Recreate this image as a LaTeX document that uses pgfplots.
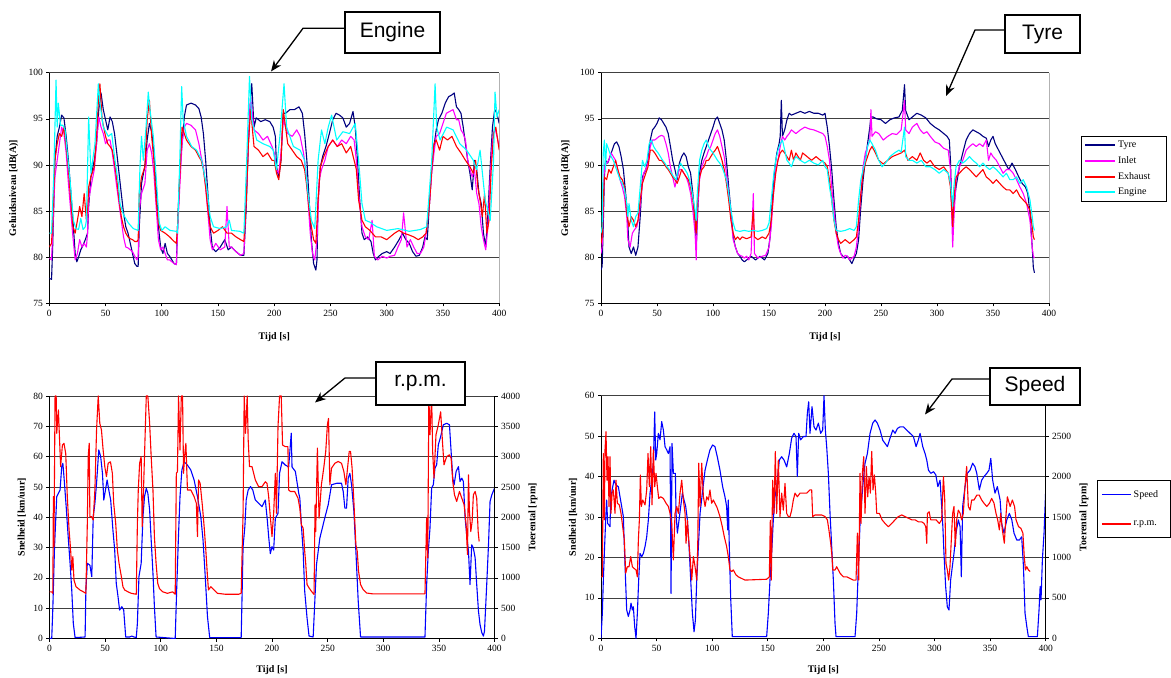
\documentclass[border=0pt]{standalone}
\usepackage{fontspec}
\setmainfont{Liberation Serif}
\newfontfamily\arialfont{Liberation Sans}
\usepackage{pgfplots}
\pgfplotsset{compat=1.18}
\usetikzlibrary{arrows.meta}
\definecolor{tyre}{RGB}{0,0,128}
\definecolor{inlet}{RGB}{255,0,255}
\definecolor{exhaust}{RGB}{255,0,0}
\definecolor{engine}{RGB}{0,255,255}
\definecolor{speedc}{RGB}{0,0,255}
\definecolor{rpmc}{RGB}{255,0,0}

\pgfplotsset{
 base/.style={
  scale only axis, xmin=0, xmax=400, xtick={0,50,...,400},
  axis x line*=bottom, axis y line*=left,
  axis line style={-, black, line width=0.8bp},
  tick align=outside, major tick length=3bp,
  tick style={black, line width=0.6bp},
  ymajorgrids, major grid style={black!75, line width=0.7bp},
  tick label style={font=\fontsize{9.5bp}{11bp}\selectfont},
  label style={font=\fontsize{10bp}{12bp}\selectfont\bfseries},
  /pgf/number format/assume math mode=true,
  /pgf/number format/1000 sep={},
  scaled ticks=false,
  every axis plot/.append style={line width=1.1bp, line join=round},
  legend cell align=left,
  legend image code/.code={\draw[##1, line width=2bp] (0bp,0bp) -- (30bp,0bp);},
 },
 topax/.style={base, width=449.9bp, height=230.6bp, ymin=75, ymax=100, ytick={75,80,...,100},
  xlabel={Tijd [s]}, ylabel={Geluidsniveau [dB(A)]},
  xlabel style={at={(axis description cs:0.5,-0.148)}, anchor=center},
  ylabel style={at={(axis description cs:-0.079,0.5)}, anchor=center},
  extra x ticks={400}, extra x tick labels={},
  extra x tick style={grid=major, major grid style={gray!60, line width=0.7bp}, major tick length=0pt},
 },
 botax/.style={base, width=445bp, height=242.5bp, ymin=0,
  xlabel={Tijd [s]}, ylabel={Snelheid [km/uur]},
  xlabel style={at={(axis description cs:0.5,-0.132)}, anchor=center},
  ylabel style={at={(axis description cs:-0.062,0.5)}, anchor=center},
 },
 rightax/.style={scale only axis, width=445bp, height=242.5bp, xmin=0, xmax=400, ymin=0,
  axis x line=none, axis y line*=right,
  axis line style={-, black, line width=0.8bp},
  tick align=outside, major tick length=3bp,
  tick style={black, line width=0.6bp},
  tick label style={font=\fontsize{9.5bp}{11bp}\selectfont},
  label style={font=\fontsize{10bp}{12bp}\selectfont\bfseries},
  /pgf/number format/assume math mode=true,
  /pgf/number format/1000 sep={},
  scaled ticks=false,
  every axis plot/.append style={line width=1.1bp, line join=round},
  ylabel={Toerental [rpm]},
  ylabel style={at={(axis description cs:1.0865,0.5)}, anchor=center},
  legend cell align=left,
  legend image code/.code={\draw[##1, line width=1.6bp] (0bp,0bp) -- (29bp,0bp);},
 },
}

\begin{document}
\begin{tikzpicture}

% ================= TOP LEFT (Engine) =================
\begin{axis}[topax, at={(49.3bp,374.7bp)}, anchor=south west]
\addplot[tyre] coordinates {(0,77.7)(2,77.6)(3,81.1)(5,90.5)(7,93.1)(9,94.1)(11,95.4)(13,95.1)(15,93.1)(17,90.5)(19,87.3)(21,84.0)(23,80.4)(24.5,79.5)(26,80.0)(28,80.8)(30,81.3)(32,81.9)(34,82.6)(35,85.5)(37,88.7)(40,90.5)(42,92.3)(44,96.0)(46,97.8)(48,96.0)(50,94.9)(52,93.8)(54,95.2)(56,94.7)(58,93.4)(60,91.3)(62,89.1)(64,86.9)(66,84.8)(68,83.3)(70,82.6)(72,81.5)(74,80.4)(76,79.3)(78,79.0)(79,79.0)(80,83.3)(82,88.0)(85,89.9)(87,92.7)(89,94.5)(91,93.6)(93,91.3)(95,87.7)(97,83.3)(99,81.1)(101,80.4)(103,81.5)(105,80.4)(107,80.1)(109,79.7)(111,79.3)(113,79.2)(114,83.3)(116,89.1)(118,92.3)(120,95.2)(122,96.5)(126,96.7)(130,96.5)(133,96.1)(135,95.2)(137,93.4)(139,90.5)(141,86.9)(143,83.3)(145,81.0)(148,80.6)(152,81.1)(156,81.9)(159,80.8)(162,81.1)(166,80.6)(170,80.2)(173,80.2)(175,85.1)(177,92.3)(179,97.4)(180,98.8)(182,94.1)(184,95.1)(188,94.7)(192,94.9)(196,94.7)(199,94.1)(201,93.1)(202,89.8)(204,88.7)(206,90.5)(208,95.6)(210,95.6)(214,96.0)(218,96.0)(222,96.3)(225,95.6)(227,93.4)(229,90.5)(231,86.2)(233,81.9)(235,79.3)(237,78.6)(238,79.7)(239,86.2)(241,89.8)(243,90.9)(246,92.0)(249,93.4)(252,94.9)(255,95.6)(258,95.4)(261,95.1)(264,94.1)(267,94.5)(270,95.8)(272,94.1)(274,90.5)(276,86.2)(278,82.6)(280,81.9)(283,82.2)(286,81.7)(288,80.4)(290,79.7)(293,80.1)(296,80.4)(300,80.6)(303,80.4)(307,81.1)(311,81.9)(314,82.6)(317,81.9)(320,81.5)(323,80.6)(326,80.1)(329,80.2)(332,81.1)(334,82.2)(336,81.9)(338,85.8)(340,89.5)(342,92.0)(344,93.8)(346,94.9)(349,95.6)(352,96.7)(355,97.4)(358,97.6)(360,97.8)(362,96.3)(364,96.0)(366,95.6)(368,94.1)(370,92.3)(372,90.5)(374,89.1)(376,87.3)(378,90.5)(380,89.5)(382,86.9)(384,85.8)(386,82.6)(388,81.1)(390,84.8)(392,89.8)(394,94.1)(396,96.0)(398,95.6)(400,94.5)};
\addplot[inlet] coordinates {(0,79.9)(2,79.7)(3,82.6)(5,88.7)(7,90.5)(9,92.3)(11,94.1)(13,93.4)(15,91.3)(17,88.0)(19,85.1)(21,82.2)(23,79.7)(25,80.4)(27,81.9)(29,81.1)(31,81.5)(33,81.1)(34,82.6)(35,86.2)(37,87.6)(40,89.5)(42,92.3)(44,95.2)(46,94.1)(48,93.4)(50,92.3)(52,92.7)(54,92.7)(56,91.3)(58,89.5)(60,87.6)(62,85.8)(64,84.0)(66,82.2)(68,81.1)(70,81.0)(72,80.8)(74,80.6)(76,80.1)(78,79.7)(79,80.1)(80,85.1)(82,86.9)(85,88.0)(87,91.6)(89,92.3)(91,91.3)(93,89.1)(95,85.5)(97,81.9)(99,80.8)(101,81.1)(103,80.4)(105,79.7)(107,79.7)(109,79.5)(111,79.3)(113,79.2)(114,82.6)(116,87.6)(118,92.3)(120,94.1)(122,94.5)(126,94.3)(130,93.8)(133,92.3)(135,90.9)(137,89.8)(139,87.6)(141,84.8)(143,81.9)(145,80.8)(148,81.5)(152,80.8)(156,81.1)(158,85.5)(160,81.1)(162,81.1)(166,80.6)(170,80.2)(173,80.4)(175,86.2)(177,92.3)(179,97.4)(182,93.8)(186,93.4)(190,92.7)(194,93.1)(198,92.0)(200,91.3)(202,89.5)(204,89.1)(206,91.3)(208,94.9)(212,93.4)(216,93.1)(220,93.8)(223,93.1)(226,91.3)(228,89.5)(230,86.2)(232,82.6)(234,80.4)(236,79.7)(238,81.9)(240,88.4)(242,89.5)(245,90.5)(248,92.0)(252,92.7)(256,92.0)(260,92.7)(264,92.3)(268,93.1)(271,92.7)(273,90.5)(275,86.9)(278,83.3)(281,82.2)(284,81.9)(287,84.0)(289,80.1)(292,79.7)(296,80.1)(300,79.9)(303,80.1)(307,80.2)(310,81.1)(313,81.9)(315,84.8)(318,81.1)(321,81.9)(324,81.1)(327,80.4)(330,80.4)(333,81.1)(335,82.6)(338,85.8)(340,89.1)(342,91.3)(344,93.1)(347,93.4)(350,94.5)(353,95.6)(356,95.8)(359,96.0)(362,94.9)(364,94.9)(366,93.8)(368,93.4)(370,92.7)(372,90.5)(374,89.5)(376,88.7)(378,89.5)(380,86.9)(382,85.8)(384,83.3)(386,81.9)(388,80.8)(390,83.3)(392,88.7)(394,92.7)(396,94.1)(398,93.1)(400,92.0)};
\addplot[exhaust] coordinates {(0,81.1)(2,81.5)(3,84.0)(5,90.5)(7,92.3)(9,93.4)(11,93.1)(13,94.1)(15,92.0)(17,89.5)(19,86.2)(21,83.3)(23,82.6)(25,84.0)(27,85.5)(29,84.4)(31,86.9)(33,84.0)(34,85.1)(35,87.6)(37,88.7)(40,89.8)(42,93.1)(44,97.8)(45,98.8)(47,94.9)(50,93.1)(52,92.3)(54,92.0)(56,91.6)(58,90.2)(60,88.4)(62,86.2)(64,84.4)(66,83.3)(68,82.6)(70,82.2)(72,82.0)(74,81.9)(76,81.7)(78,81.7)(79,81.9)(80,86.9)(82,88.7)(85,89.8)(87,94.9)(89,97.0)(91,93.1)(93,90.5)(95,86.2)(97,83.7)(99,82.9)(103,82.6)(107,82.2)(111,81.7)(113,81.5)(114,83.3)(116,88.7)(118,94.1)(120,93.4)(122,92.7)(126,92.0)(130,91.6)(133,90.9)(135,90.5)(137,89.5)(139,87.6)(141,85.1)(143,83.3)(146,82.6)(150,82.9)(154,83.3)(158,82.6)(162,82.6)(166,82.2)(170,81.9)(173,81.7)(175,85.8)(177,92.3)(179,96.0)(182,92.0)(186,91.6)(190,90.9)(194,91.3)(198,90.5)(200,90.5)(202,89.1)(204,88.4)(206,90.5)(208,96.0)(212,92.3)(216,91.6)(220,90.9)(224,90.5)(227,89.5)(229,87.6)(231,85.1)(233,83.3)(235,81.9)(237,81.5)(239,86.2)(241,89.8)(244,90.9)(248,92.0)(252,92.7)(256,92.0)(260,92.3)(264,91.3)(268,92.0)(271,90.5)(273,89.5)(275,86.2)(278,84.0)(281,83.3)(285,82.9)(290,82.2)(295,82.2)(300,81.9)(303,82.2)(307,82.6)(311,82.9)(315,82.6)(320,82.4)(324,82.2)(328,81.9)(332,82.2)(335,82.6)(338,85.8)(340,89.5)(342,92.3)(344,92.7)(347,91.6)(350,93.1)(354,92.7)(358,93.1)(362,92.0)(366,91.3)(370,90.5)(374,89.8)(377,89.1)(379,90.5)(381,87.6)(383,86.2)(385,84.4)(387,86.9)(389,82.6)(391,84.0)(393,89.8)(395,93.4)(397,94.1)(400,91.6)};
\addplot[engine] coordinates {(0,82.6)(2,82.6)(4,89.0)(6,99.2)(7,94.1)(8,96.7)(10,94.3)(12,94.3)(14,93.8)(15.4,92.0)(18.4,88.4)(21.4,84.0)(23.7,83.1)(26,83.0)(28,84.2)(30,83.0)(32,83.3)(33,84.0)(35,95.2)(37,89.1)(40.6,92.3)(43.6,98.8)(45,96.7)(48,94.1)(52.5,93.1)(55.5,93.4)(58.4,90.5)(61.4,88.0)(62.9,85.8)(66,84.6)(70.3,83.7)(74.7,83.1)(79,82.9)(80.6,89.8)(82,93.1)(83.6,90.5)(86,94.1)(88,97.9)(89.5,96.0)(92.5,93.1)(95.4,88.0)(97.8,83.7)(100,82.9)(103,83.3)(107.3,82.9)(113,82.8)(114,82.6)(116,90.5)(117.7,98.5)(119,94.9)(122,93.1)(126.6,92.0)(131,91.6)(135.5,90.5)(140,87.6)(143,84.4)(146,83.3)(152,83.1)(157.7,83.3)(160,84.0)(162,82.9)(169.5,82.8)(173,82.6)(175.5,90.5)(178,99.6)(180,94.9)(184.4,92.7)(190,92.3)(196,92.0)(199,91.6)(202,89.5)(205,93.1)(208.7,98.8)(211,94.1)(217,92.0)(223,91.6)(227,90.5)(230,86.9)(233,84.0)(236,83.1)(239,90.5)(242,93.8)(245,92.3)(248,94.1)(251,95.4)(255.5,92.7)(261,93.6)(267,93.4)(272,94.5)(275,90.5)(278,85.8)(281,84.0)(285,83.8)(291,83.3)(300,82.9)(310,83.1)(320,82.8)(330,83.0)(335.5,83.3)(340,90.5)(343,98.8)(344.4,94.1)(347.4,92.7)(353.3,94.1)(359,93.8)(365,92.3)(371,91.6)(377,90.5)(380,89.5)(383,91.6)(387.5,86.2)(392,84.0)(395,90.5)(396.3,97.9)(398,95.2)(400,96.0)};
\end{axis}

% ================= TOP RIGHT (Tyre) =================
\begin{axis}[topax, width=448bp, at={(601bp,374.7bp)}, anchor=south west,
  legend style={at={(axis description cs:1.071,0.727)}, anchor=north west, draw=black, line width=0.6bp, fill=white,
   font=\fontsize{10bp}{11bp}\selectfont, row sep=3.5bp, inner xsep=3bp, inner ysep=3bp}]
\addplot[tyre] coordinates {(0,78.6)(1,79.0)(2,83.3)(3,88.7)(4,90.5)(6,90.2)(8,90.9)(10,91.6)(12,92.3)(14,92.5)(16,92.0)(18,90.9)(20,89.5)(22,86.9)(23.5,84.8)(25,81.1)(27,80.4)(29,81.1)(31,80.2)(33,81.1)(35,84.4)(37,88.7)(40,89.5)(42,90.5)(44,92.7)(46,93.8)(48,94.1)(50,94.5)(52,95.1)(54,94.9)(56,94.5)(58,94.1)(60,93.4)(62,92.0)(64,90.5)(66,89.5)(68,88.4)(70,90.2)(72,90.9)(74,91.3)(76,90.9)(78,89.8)(80,89.1)(82,86.9)(84,84.0)(85,81.1)(86,84.0)(88,89.1)(90,90.5)(92,91.3)(94,92.0)(96,92.7)(98,93.4)(100,94.1)(102,94.9)(104,95.2)(106,94.5)(108,93.8)(110,92.7)(112,90.5)(114,87.6)(116,85.1)(118,82.2)(120,81.1)(122,80.4)(124,80.1)(126,79.7)(128,79.5)(130,79.7)(134,80.1)(138,79.7)(142,80.1)(146,79.7)(149,80.4)(151,82.2)(153,86.2)(155,89.5)(157,91.3)(159,92.3)(160,93.1)(161,97.0)(162,93.1)(164,93.8)(166,94.9)(168,95.6)(170,95.4)(174,95.6)(178,95.8)(182,95.6)(186,95.8)(190,95.6)(194,95.6)(198,95.4)(200,95.6)(202,94.1)(204,92.0)(206,89.5)(208,86.2)(210,83.3)(212,81.5)(214,80.4)(216,80.1)(218,79.9)(220,80.1)(222,79.7)(224,79.3)(226,79.9)(228,80.4)(230,81.9)(232,85.5)(234,88.4)(236,90.5)(238,92.3)(240,94.1)(241,95.2)(243,95.2)(246,95.0)(250,94.9)(254,94.5)(258,94.9)(262,95.1)(266,95.2)(269,95.9)(271,98.7)(272,95.9)(275,94.9)(278,95.2)(282,95.6)(286,95.4)(290,95.1)(294,94.5)(298,94.1)(302,93.8)(306,93.4)(309,93.1)(311,92.7)(312,90.5)(313,86.2)(314,83.3)(315,85.5)(317,87.6)(320,89.8)(323,91.3)(326,92.7)(329,93.4)(332,93.8)(335,93.6)(338,93.4)(341,93.1)(344,92.9)(346,92.0)(348,92.7)(350,93.1)(352,92.3)(355,91.6)(358,90.9)(361,90.2)(364,89.5)(367,90.2)(370,89.5)(373,88.7)(376,88.0)(379,87.6)(381,86.9)(383,84.8)(385,81.1)(386,78.9)(387,78.3)};
\addlegendentry{Tyre}
\addplot[inlet] coordinates {(0,80.4)(1,81.1)(2,85.1)(3,89.8)(5,90.2)(7,90.5)(9,91.3)(11,90.9)(13,90.5)(15,89.5)(17,88.4)(19,87.6)(21,86.6)(23,84.4)(24,81.9)(26,81.1)(28,82.6)(30,83.0)(32,83.3)(34,84.4)(36,86.9)(38,89.1)(40,89.5)(42,90.2)(44,92.0)(46,92.7)(48,92.7)(50,92.9)(52,93.1)(54,93.2)(56,93.1)(58,92.3)(60,91.3)(62,89.8)(64,88.7)(66,87.6)(68,88.7)(70,89.5)(72,89.5)(74,89.1)(76,88.7)(78,88.0)(80,86.9)(82,85.1)(84,82.6)(85,79.7)(86,84.8)(88,88.4)(90,89.8)(92,90.5)(94,90.9)(96,91.6)(98,92.0)(100,92.7)(102,93.4)(104,93.8)(106,93.1)(108,92.0)(110,90.9)(112,89.1)(114,86.9)(116,84.4)(118,81.9)(120,81.1)(122,80.4)(124,80.2)(126,80.1)(128,79.9)(130,80.1)(132,79.7)(134,80.4)(136,86.9)(137,80.4)(140,79.9)(144,80.1)(147,80.2)(150,81.1)(152,83.3)(154,86.9)(156,89.5)(158,90.5)(160,92.0)(162,93.1)(164,92.7)(166,93.1)(168,93.4)(170,93.8)(174,93.4)(178,93.8)(182,94.1)(186,93.9)(190,93.8)(194,93.6)(198,93.4)(200,93.1)(202,92.0)(204,90.5)(206,87.6)(208,85.1)(210,82.6)(212,81.1)(214,80.4)(216,79.9)(218,80.2)(220,80.1)(222,79.7)(224,79.9)(226,80.1)(228,81.1)(230,83.3)(232,86.9)(234,89.8)(236,91.3)(238,92.0)(240,92.7)(241,96.0)(242,93.1)(245,93.6)(248,93.4)(252,92.7)(256,93.1)(260,93.4)(264,93.3)(268,93.8)(271,97.0)(272,93.8)(275,93.4)(278,94.1)(282,94.5)(285,93.8)(288,93.4)(291,93.6)(294,93.1)(298,92.5)(302,92.3)(306,91.8)(310,91.6)(312,89.5)(313,85.1)(314,81.1)(315,84.0)(317,88.4)(320,89.8)(323,90.5)(326,91.6)(329,92.0)(332,92.3)(335,92.0)(338,92.3)(341,92.0)(344,92.7)(346,90.5)(348,91.3)(350,90.9)(353,90.5)(356,89.8)(359,89.1)(362,89.5)(365,89.5)(368,89.1)(371,88.4)(374,87.6)(377,86.9)(380,85.8)(383,84.0)(385,81.1)(386,80.1)(387,79.9)};
\addlegendentry{Inlet}
\addplot[exhaust] coordinates {(0,81.5)(1,82.2)(2,86.2)(3,88.7)(5,88.4)(7,89.5)(9,89.1)(11,89.8)(13,90.5)(15,89.5)(17,88.7)(19,88.4)(21,87.6)(23,84.8)(25,83.3)(27,84.4)(29,84.0)(31,83.3)(33,84.0)(35,86.2)(37,88.0)(40,89.1)(42,89.8)(44,91.6)(46,91.6)(48,91.3)(50,90.9)(52,90.5)(54,90.5)(56,90.2)(58,89.8)(60,89.5)(62,89.1)(64,88.7)(66,88.4)(68,88.0)(70,88.7)(72,89.5)(74,89.1)(76,88.7)(78,88.4)(80,87.6)(82,86.2)(84,84.0)(85,82.6)(86,85.8)(88,88.7)(90,89.5)(92,89.8)(94,90.5)(96,90.5)(98,90.9)(100,91.3)(102,91.6)(104,92.0)(106,91.3)(108,90.5)(110,89.5)(112,88.0)(114,86.2)(116,84.0)(118,82.6)(120,81.9)(122,82.2)(124,81.9)(126,82.2)(130,82.0)(134,82.2)(136,85.1)(137,82.2)(140,81.9)(144,82.2)(147,82.0)(150,82.6)(152,84.0)(154,86.9)(156,89.1)(158,90.5)(160,91.3)(162,91.6)(164,91.3)(166,90.9)(168,90.5)(170,91.6)(172,90.5)(174,91.3)(176,90.9)(178,90.5)(180,91.3)(184,90.9)(188,90.5)(192,90.9)(196,90.5)(200,90.2)(202,89.8)(204,88.4)(206,86.2)(208,84.0)(210,82.6)(212,81.9)(214,81.5)(216,81.7)(218,81.9)(220,81.7)(222,81.5)(226,81.9)(228,82.2)(230,84.0)(232,86.9)(234,89.1)(236,90.2)(238,90.9)(240,91.6)(242,92.0)(245,91.3)(248,90.5)(252,90.1)(256,90.5)(260,90.9)(264,91.1)(268,91.3)(271,91.6)(274,90.5)(278,90.9)(282,90.5)(285,91.3)(288,90.5)(291,90.2)(294,90.5)(298,89.8)(302,89.5)(306,89.8)(310,89.1)(312,87.6)(313,85.5)(314,83.3)(315,86.2)(317,88.7)(320,89.1)(323,89.5)(326,89.8)(329,89.5)(332,89.1)(335,88.7)(338,89.1)(341,89.5)(344,88.7)(347,88.4)(350,88.0)(353,88.4)(356,88.0)(359,87.6)(362,87.3)(365,87.3)(368,86.9)(371,87.3)(374,86.6)(377,86.2)(380,85.8)(383,85.1)(385,83.3)(386,82.2)(387,81.9)};
\addlegendentry{Exhaust\hspace*{11bp}}
\addplot[engine] coordinates {(0,82.6)(1,83.3)(2,91.3)(3,92.7)(4,89.5)(5,92.3)(7,91.6)(9,90.9)(11,90.5)(13,89.8)(15,89.1)(17,88.4)(19,88.0)(21,87.3)(23,85.8)(24,84.4)(25,85.8)(27,84.0)(29,83.3)(31,84.4)(33,84.8)(35,87.6)(37,90.5)(39,89.8)(41,90.5)(43,92.3)(45,92.7)(47,92.0)(49,91.6)(51,91.3)(53,90.9)(55,90.5)(57,90.2)(59,89.8)(61,89.5)(63,89.1)(65,88.7)(67,88.4)(69,89.5)(71,90.2)(73,89.8)(75,89.5)(77,89.1)(79,88.4)(81,87.3)(83,85.8)(84,85.1)(85,84.0)(86,86.9)(88,90.5)(90,91.6)(92,92.3)(94,92.7)(96,92.0)(98,91.6)(100,91.3)(102,90.9)(104,90.5)(106,90.2)(108,89.8)(110,89.1)(112,88.4)(114,86.9)(116,85.1)(118,83.7)(120,82.9)(124,82.8)(128,82.9)(132,82.8)(136,82.9)(140,82.8)(144,82.9)(148,83.1)(150,83.7)(152,86.2)(154,88.7)(156,90.5)(158,91.6)(160,92.3)(162,92.7)(164,91.6)(166,90.5)(168,90.2)(170,89.8)(172,90.5)(174,90.9)(178,90.5)(182,90.2)(186,90.5)(190,90.2)(194,90.0)(198,90.5)(200,89.8)(202,89.5)(204,87.6)(206,86.2)(208,84.0)(210,82.9)(214,82.8)(218,82.9)(222,83.1)(226,82.9)(228,83.3)(230,86.2)(232,88.4)(234,89.5)(236,90.5)(238,92.0)(240,92.7)(242,92.3)(245,91.6)(248,90.5)(251,89.8)(254,90.2)(258,90.9)(262,91.3)(266,91.6)(268,91.4)(271,94.1)(272,90.9)(275,90.5)(278,90.5)(282,90.2)(286,90.5)(290,89.8)(294,89.8)(298,89.5)(302,89.1)(306,89.5)(310,89.1)(312,88.0)(313,86.9)(314,85.5)(315,87.6)(317,89.8)(320,90.5)(323,90.2)(326,90.5)(329,90.9)(332,90.5)(335,90.2)(338,89.8)(341,90.2)(344,89.8)(347,89.5)(350,89.8)(353,89.5)(356,89.1)(359,88.7)(362,89.1)(365,88.4)(368,88.4)(371,88.7)(374,88.0)(377,88.4)(380,87.6)(383,86.2)(385,84.4)(386,83.3)(387,82.9)};
\addlegendentry{Engine}
\end{axis}

% ================= BOTTOM LEFT (r.p.m.) =================
\begin{axis}[botax, at={(49.5bp,39.5bp)}, anchor=south west, ymax=80, ytick={0,10,...,80}]
\addplot[speedc] coordinates {(0,0)(2,0)(3,10)(4.5,30)(6.5,46.8)(9.5,49)(11,56.7)(12,57.8)(13,53.4)(15,43.5)(17,32.5)(18.5,24.8)(20,16)(21.4,5)(23,0.3)(32,0.5)(32.7,16)(34,24.8)(36.3,24.2)(38,20.4)(39.3,40.2)(40.8,44.6)(42.3,51.2)(44.3,62.2)(46,60)(47.6,54.5)(48.8,45.7)(50.3,49)(51.8,52.3)(53.3,49)(55,45.7)(57,35.8)(58.6,29.2)(60,18.2)(61.6,13.8)(63,9.4)(65,10.5)(66.7,9.4)(68.5,0.5)(72,0.5)(74,0.8)(76,0.5)(78,0.3)(79,5)(80.4,20.4)(82.4,24.8)(84,40.2)(85.4,46.8)(87,49.5)(88.4,47.9)(90,42.4)(91.4,32.5)(93,21.5)(94.3,10.5)(95.8,0.5)(113,0)(114.3,16)(115.8,32.5)(117.3,46.8)(119,55.6)(121,58.3)(124,57.2)(127,55.6)(130,52.3)(133,46.8)(136,40.2)(138,32.5)(140,20.4)(142,7.2)(144,0.3)(172.3,0.3)(173.2,16)(174,30.3)(175.6,36.9)(176.8,45.7)(178.6,49)(180.7,50.1)(182.7,49)(185,45.7)(188,44.6)(191,43.5)(194,45.7)(195.8,39)(197,33.6)(198.5,28)(200,30.3)(201.5,29.2)(203,39.6)(205.4,41.3)(206.8,54.5)(209,58.3)(212,57.2)(215,56.6)(217.3,67.7)(218,56.6)(221,55.1)(224,48)(225,46.3)(226.4,37.5)(228,28.8)(229.4,15.6)(231.5,6.8)(233.3,0.8)(237,0.5)(237.8,6.8)(240,24.4)(243,33.1)(247.4,39.7)(250.5,44.1)(253.5,50.7)(258,51.2)(262.5,51.2)(264,48.5)(265.5,43)(267,43)(268.5,52.9)(270,54.5)(271.5,50.7)(273.6,42)(275.4,28.8)(277.5,12.3)(279.6,0.5)(337.5,0.5)(339,17.8)(340.5,28.8)(342,36.4)(343.5,49.6)(345,50.7)(346.5,56.2)(348,57.3)(349.5,63.9)(351.6,66.6)(354,70.5)(357,71)(359.5,70.5)(361,61.7)(362.5,52.9)(363.7,50.7)(365.5,55.1)(367.6,56.7)(369,51.8)(370.6,52.9)(372,51.8)(373.6,39.7)(375,34.2)(376.6,28.8)(378,17.8)(379.5,30.9)(381,29.8)(382.6,26.6)(384,17.8)(385.6,9)(387,4.6)(388.6,1.9)(390,0.8)(391,2.4)(393,17.8)(394.6,30.9)(396,45.2)(397.6,47.4)(400,49.6)};
\end{axis}
\begin{axis}[rightax, at={(49.5bp,39.5bp)}, anchor=south west, ymax=4000, ytick={0,500,...,4000}]
\addplot[rpmc] coordinates {(0,770)(2,770)(3,745)(3.5,2340)(4,1515)(5,4000)(6,4000)(6.5,3385)(8,3770)(9,3300)(10,2835)(11.6,3190)(13,3220)(14.6,3050)(16,2340)(17.6,1790)(19,1460)(20,1130)(21,1350)(22,965)(23.8,855)(27.4,800)(30.4,770)(32.7,745)(34,1900)(34.8,3000)(35.7,3220)(36.3,2010)(37.8,2010)(39.3,1955)(40.8,2450)(42.3,3440)(43.8,4000)(45.2,3550)(46.7,3440)(48.2,3110)(49.7,2835)(51.2,2670)(52.7,2890)(54.8,2915)(56.5,2725)(57.7,2230)(59.5,1900)(61,1460)(62.5,1240)(64.6,1020)(66,855)(67.6,800)(70.5,770)(73.5,745)(78,730)(79,1900)(79.8,2450)(81,2890)(82.4,3000)(83.3,1845)(84.5,2450)(86,3385)(87,4000)(88.4,4000)(90,3550)(91.4,3000)(93,2450)(94.3,1680)(95.8,1240)(97.3,910)(98.8,825)(101.8,770)(106,745)(110.7,770)(113,730)(114,2725)(115,2750)(116,4000)(117.3,3110)(118.5,4000)(119.6,4000)(120.5,2725)(121.4,3000)(122.6,3220)(124,2450)(127,2450)(130,2340)(132,2230)(133,1680)(134,2615)(135.4,2560)(137.5,2175)(139,1845)(140.5,1460)(142,1020)(142.9,800)(145,855)(148,800)(151,745)(158,730)(170,730)(172.3,745)(173.2,1460)(174,2065)(175,4000)(176.2,3385)(177.7,4000)(178.6,3275)(179.8,2835)(182,2835)(185,2615)(188,2505)(191,2505)(194,2585)(195.5,2560)(197,2340)(198.5,2010)(200,1680)(201.5,2065)(203,2725)(204,2065)(205.4,3495)(206.8,4000)(208.3,4000)(209.5,3190)(212,3165)(214.3,3165)(215,2450)(216.5,2425)(220.4,2425)(223.4,2315)(225,2150)(226.4,1875)(228,1820)(229.4,1440)(230.3,1240)(231.5,890)(233.3,835)(235.4,780)(237.8,725)(238.7,2205)(239.3,1765)(240.8,3140)(242.3,1985)(244.4,2535)(246.5,2810)(248.3,3085)(249.8,3525)(250.8,3630)(252,2535)(253.5,2810)(256.5,2890)(259.5,2920)(262.5,2890)(264.6,2755)(266.4,2535)(267.6,2755)(269.4,3085)(270.6,3085)(272,2810)(273.6,2260)(275.4,1545)(276.6,1440)(277.8,1110)(279.6,890)(282,805)(285,750)(291,735)(337.5,735)(339,1985)(340,1330)(341,4000)(342,3360)(343.5,4000)(344.4,3085)(345.6,2645)(347.4,3360)(349.5,3525)(351.6,3740)(353.4,3195)(354.6,2865)(357,3000)(359.5,3030)(361,2975)(362.5,2590)(364,2370)(366,2260)(368.5,2425)(370.6,2315)(372.7,2205)(374.5,1875)(375.7,1385)(376.6,2700)(377.5,2095)(378.7,1765)(379.9,1930)(381,2370)(382.6,2425)(384,2315)(385.3,1765)(386.2,1600)};
\end{axis}

% ================= BOTTOM RIGHT (Speed) =================
\begin{axis}[botax, width=444.7bp, height=242.6bp, at={(601bp,39.7bp)}, anchor=south west, ymax=60, ytick={0,10,...,60},
  ylabel style={at={(axis description cs:-0.063,0.5)}, anchor=center}]
\addplot[speedc] coordinates {(0,0)(1.2,6.2)(2.1,14.4)(3,21)(4.2,29.3)(5.1,34.2)(6,28.4)(7.2,28)(8.1,27.6)(8.7,34.2)(10,36.7)(11.7,39.1)(13.5,37.9)(15.6,37.5)(17.1,35)(18.6,32.6)(20.1,30.1)(21,22.7)(22.2,13.6)(23.1,7)(24.6,5.4)(26.1,7)(27,8.7)(28.2,7)(29.1,7.8)(30.3,2.9)(31.5,0)(32.7,6.2)(33.9,14.4)(35.1,21)(36.6,20.2)(38.1,21)(39.6,22.7)(41.1,25.1)(42.6,29.3)(44.1,35.9)(45.6,39.1)(47.1,43.3)(48.3,56)(49.2,44.1)(50.1,45.7)(51.6,50.7)(53.1,49.1)(54.6,53.6)(56.1,51.5)(57.6,47.4)(59.1,46.6)(60.6,45.7)(62.1,47.4)(63,11.1)(63.9,48.2)(65.1,40.8)(66.9,40.8)(67.5,30.9)(68.7,26)(70.2,29.3)(71.7,32.6)(73.2,35.9)(74.7,34.2)(76.2,32.6)(77.7,29.3)(79.2,22.7)(80.7,14.4)(82.2,6.2)(83.7,1.6)(84.9,4.5)(86.1,14.4)(87.6,22.7)(89.1,30.9)(91.5,36.7)(93.6,41.6)(95.7,44.1)(98,46.6)(100.4,47.8)(102.5,47.4)(104.6,44.9)(107,41.6)(109.4,37.5)(111.5,35)(113,32.6)(114,26.8)(114.5,34.2)(115.4,22.7)(116.6,10.3)(118.1,0.4)(149,0.4)(150.5,6.2)(152,14.4)(153.5,21)(155,29.3)(156.5,35)(158,37.5)(160.4,44.1)(162.5,44.9)(164.6,44.1)(167,42.4)(169.4,45.7)(171.5,49.5)(173.6,50.7)(175.4,49.9)(176.6,40)(177.8,50.7)(179.6,49.1)(182,49.9)(184.4,49.9)(185.6,55.6)(186.8,58.5)(188,50.7)(189.8,57.3)(191.6,52.3)(193.4,51.5)(195.5,53.2)(197.6,50.7)(199.4,51.5)(200.6,60)(201.8,51.5)(203,47.4)(204.5,40.8)(206,30.9)(207.5,22.7)(209,14.4)(210.5,3.7)(211.4,0.4)(228.5,0.4)(230,6.2)(231.5,17.7)(233,28.4)(235.4,37.5)(237.5,43.3)(239.6,45.7)(242,50.7)(244.4,53.2)(246.5,54)(248.6,53.2)(251,51.5)(253.4,49)(255.5,48.2)(257.6,47.4)(260,49.5)(262.4,51.5)(264.5,50.7)(266.6,51.9)(269,52.3)(272,52.3)(275,51.5)(278,50.7)(281,49.9)(283.4,47.4)(285.5,49.1)(287,50.7)(289.4,47.4)(291.5,45.7)(293,44.1)(294.5,41.6)(296.7,40.8)(299.1,41.2)(301.2,40.4)(303,37.5)(305,39.1)(307.5,27.6)(308.5,21)(310,12.8)(311.5,7.8)(313,7)(314.5,14.4)(316,17.7)(317.5,21)(319.3,26)(321.4,29.3)(323,27.6)(324.1,15.2)(325.3,32.6)(327.4,37.5)(329.5,40.8)(332,41.6)(334.3,43.3)(336.4,42.4)(338,40.8)(340.3,36.7)(342.4,39.1)(344.5,40)(347,40.8)(349,41.6)(350.6,44.5)(352.3,39.1)(354.4,35.9)(356.5,37.5)(359,34.2)(360.4,28.4)(362.5,26)(365,29.3)(367.3,30.9)(369.5,29.3)(371.5,26)(374,24.3)(376.3,24.3)(378.4,25.1)(380,17.7)(381.4,6.2)(383,2.9)(384.4,0.4)(392.5,0.4)(394,7)(395,12.8)(395.8,9.5)(397,19.4)(398.5,26)(400,36.7)};
\end{axis}
\begin{axis}[rightax, width=444.7bp, height=242.6bp, at={(601bp,39.7bp)}, anchor=south west, ymax=3000, ytick={0,500,...,3000},
  yticklabels={0,500,1000,1500,2000,2500,{}},
  ylabel style={at={(axis description cs:1.086,0.5)}, anchor=center},
  legend style={at={(axis description cs:1.115,0.6525)}, anchor=north west, draw=black, line width=0.6bp, fill=white,
   font=\fontsize{10bp}{11bp}\selectfont, row sep=18bp, inner xsep=4bp, inner ysep=8bp}]
\addlegendimage{speedc}
\addlegendentry{Speed}
\addplot[rpmc] coordinates {(0,760)(1.2,760)(2.1,2285)(3,1465)(3.6,2330)(4.5,2555)(5.4,1955)(6.3,2245)(7.2,1630)(8.1,2245)(9,1545)(10,1795)(11.1,1835)(12.6,1545)(13.5,1955)(14.7,1670)(16.5,1650)(18,1545)(19.5,1380)(21,1215)(22.2,805)(23.7,885)(25.2,885)(26.7,1010)(28.2,885)(29.7,865)(31.5,845)(32.7,760)(33.6,1215)(34.5,1460)(35.4,2020)(36.3,1630)(37.5,1710)(39.6,1650)(41.1,1835)(42.3,2285)(43.5,1875)(44.7,2370)(45.9,1650)(47.1,2330)(48.3,1875)(49.5,2040)(50.7,1875)(51.9,1730)(53.7,1750)(56.1,1730)(58.5,1670)(60.6,1630)(62.1,1545)(63.6,1420)(65.1,970)(66.6,1545)(68.1,1630)(69.6,1545)(71.1,1795)(72.6,1955)(74.1,1710)(75.6,1545)(76.5,1175)(77.7,1460)(78.9,1215)(80.1,1010)(81.6,720)(83.1,1010)(84.6,885)(86.1,720)(87,1135)(87.9,2165)(89.1,1630)(90.6,2165)(92.1,1750)(93.6,1630)(95.1,1750)(96.6,1710)(98,1835)(99.5,1670)(101,1710)(102.5,1670)(104.6,1610)(107,1505)(109.1,1380)(110.9,1255)(113,1135)(114.5,1010)(116,845)(117.5,825)(119,845)(121.4,785)(123.5,760)(126.5,740)(129.5,720)(149,730)(151.4,760)(152.3,1460)(153.2,720)(154.4,1955)(155.6,1545)(156.8,2310)(158,1545)(159.5,2205)(161,1505)(162.5,1795)(164,1585)(165.5,1915)(167,1545)(168.5,1505)(170,1505)(171.5,1585)(173,1710)(174.5,1795)(176.6,1750)(179,1795)(182,1795)(185,1795)(188,1835)(189.5,1835)(190.4,1505)(192.5,1525)(195.5,1525)(198.5,1525)(201.5,1505)(203.6,1465)(205,1340)(206.6,1175)(207.8,1010)(208.4,845)(210.5,845)(212,885)(213.5,845)(215,805)(218,760)(221,760)(224,740)(227,720)(229.4,720)(230.6,1300)(231.8,720)(233,2040)(233.9,1420)(235.1,2040)(236.3,2245)(237.5,1545)(238.7,2125)(239.9,1750)(241.1,2000)(242.3,1795)(243.5,2310)(244.7,1835)(245.9,2020)(247.1,1795)(248,1545)(250.4,1545)(252.8,1465)(255.5,1420)(258.5,1380)(261.5,1420)(264.5,1465)(267.5,1505)(270.5,1525)(273.5,1505)(276.5,1485)(279.5,1465)(282.5,1465)(285.5,1440)(288.5,1440)(290.6,1420)(292.1,1380)(293,1175)(293.6,1545)(295.1,1565)(296.6,1465)(299,1465)(301.4,1465)(304.3,1420)(306.4,1465)(308,2000)(309.2,1710)(310.3,925)(311.5,845)(312.7,720)(313.9,885)(315.1,1215)(316.3,1545)(317.5,1630)(318.7,1135)(319.9,1465)(321.4,1585)(323,1545)(324.4,1465)(325.9,1545)(327.4,1875)(328.9,2125)(330.4,1630)(332,1585)(333.4,1710)(335.5,1710)(338,1770)(340.3,1770)(342.4,1710)(344.5,1670)(347,1630)(349.4,1670)(351.4,1730)(353.5,1670)(355.3,1545)(356.8,1465)(358.3,1340)(359.5,1545)(361,1340)(362.8,1175)(364,1465)(365.5,1750)(368,1630)(370,1710)(372,1630)(373.3,1465)(375.6,1380)(377.7,1360)(379.5,1300)(380.7,1010)(381.8,845)(383,885)(384.5,845)(386,825)};
\addlegendentry{r.p.m.\hspace*{8bp}}
\end{axis}

% ================= Annotation boxes =================
\tikzset{annbox/.style={draw=black, line width=1.3bp, fill=white, inner sep=0pt, font=\arialfont\fontsize{21bp}{24bp}\selectfont},
         annarrow/.style={line width=1.3bp, -{Stealth[length=11bp,width=9bp]}}}
\draw[annarrow] (345bp,649.7bp) -- (303bp,649.7bp) -- (271bp,606.5bp);
\node[annbox, minimum width=95bp, minimum height=41bp] at (392.5bp,645.5bp) {Engine};
\draw[annarrow] (1005bp,648bp) -- (975bp,648bp) -- (946bp,582bp);
\node[annbox, minimum width=75bp, minimum height=38bp] at (1042.5bp,644bp) {Tyre};
\draw[annarrow] (377bp,300bp) -- (345bp,300bp) -- (315bp,275.5bp);
\node[annbox, minimum width=89bp, minimum height=43bp] at (420.5bp,294.5bp) {r.p.m.};
\draw[annarrow] (991bp,299bp) -- (952bp,299bp) -- (925bp,263.5bp);
\node[annbox, minimum width=90bp, minimum height=37bp] at (1035bp,291.5bp) {Speed};

\pgfresetboundingbox
\path[use as bounding box] (0bp,0bp) rectangle (1171bp,678bp);
\end{tikzpicture}
\end{document}
